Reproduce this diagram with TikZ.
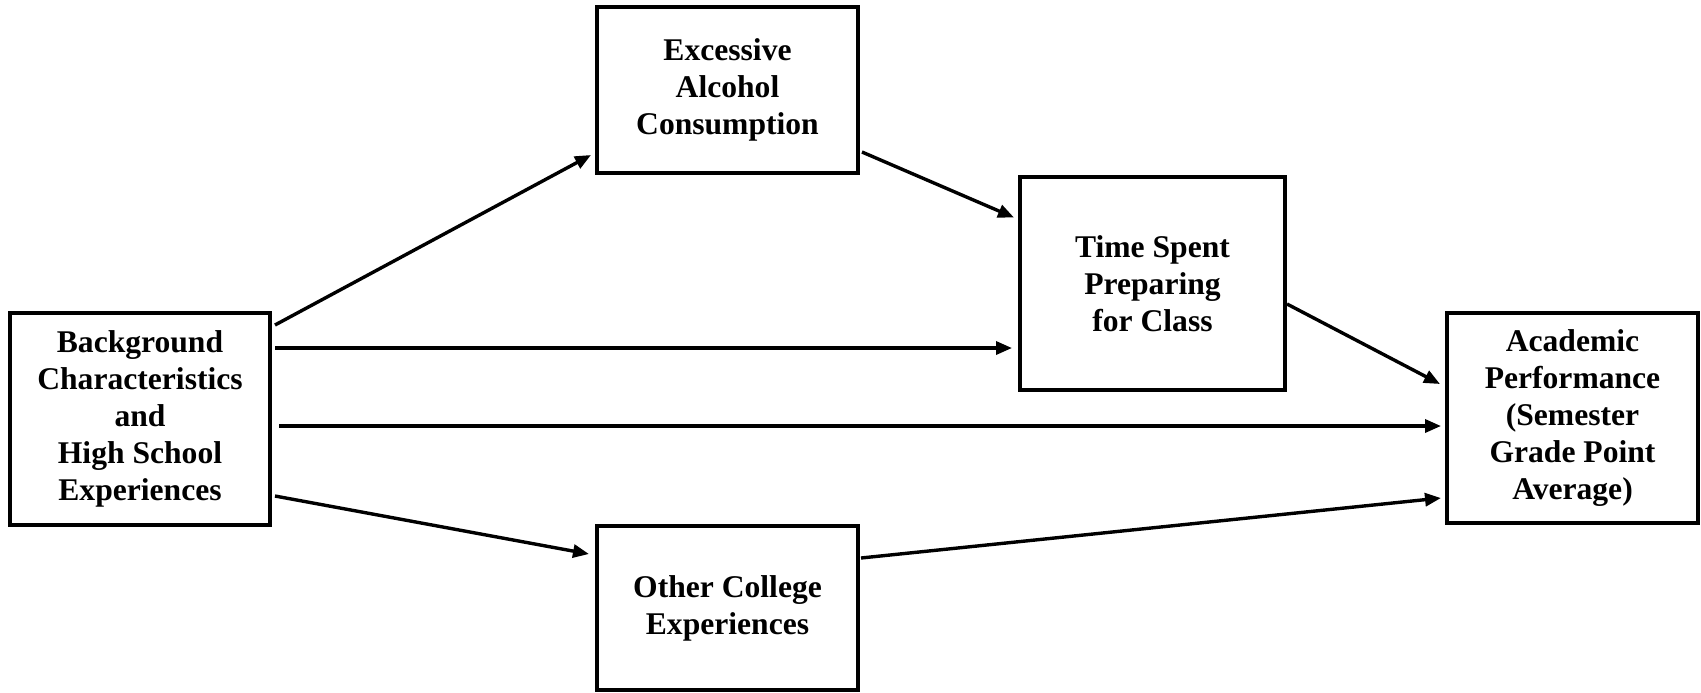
\documentclass[tikz,border=0pt]{standalone}
\usepackage{fontspec}
\setmainfont{Liberation Serif}
\usetikzlibrary{arrows.meta,calc}

\begin{document}
\begin{tikzpicture}[x=0.5pt,y=-0.5pt,
    box/.style={shape=rectangle,draw=black,line width=2pt,align=center,
      font=\fontsize{15.8}{18.5}\selectfont\bfseries,inner sep=0pt},
    arr/.style={line width=1.7pt,-{Triangle[length=8pt,width=6.5pt]}}]
    \useasboundingbox (0,0) rectangle (1701,692);

    \node[box,minimum width=130pt,minimum height=106pt] (bg) at (140,419)
      {Background\\Characteristics\\and\\High School\\Experiences};
    \node[box,minimum width=130.5pt,minimum height=83pt] (alc) at (727.5,90)
      {Excessive\\Alcohol\\Consumption};
    \node[box,minimum width=132.5pt,minimum height=106.5pt] (prep) at (1152.5,283.5)
      {Time Spent\\Preparing\\for Class};
    \node[box,minimum width=125.5pt,minimum height=105pt] (acad) at (1572.5,418)
      {Academic\\Performance\\(Semester\\Grade Point\\Average)};
    \node[box,minimum width=130.5pt,minimum height=82pt] (other) at (727.5,608)
      {Other College\\Experiences};

    \draw[arr] ($(bg.east)+(3,-94)$) -- ($(alc.west)+(-4,65)$);
    \draw[arr] ($(alc.east)+(2,62)$) -- ($(prep.west)+(-4,-66)$);
    \draw[arr] ($(bg.east)+(3,-71)$) -- ($(prep.west)+(-6,64.5)$);
    \draw[arr] ($(prep.east)+(0,20.5)$) -- ($(acad.west)+(-5,-34)$);
    \draw[arr] ($(bg.east)+(7,7)$) -- ($(acad.west)+(-4,8)$);
    \draw[arr] ($(bg.east)+(3,77)$) -- ($(other.west)+(-6,-54)$);
    \draw[arr] ($(other.east)+(1,-50)$) -- ($(acad.west)+(-4,80)$);
\end{tikzpicture}
\end{document}
